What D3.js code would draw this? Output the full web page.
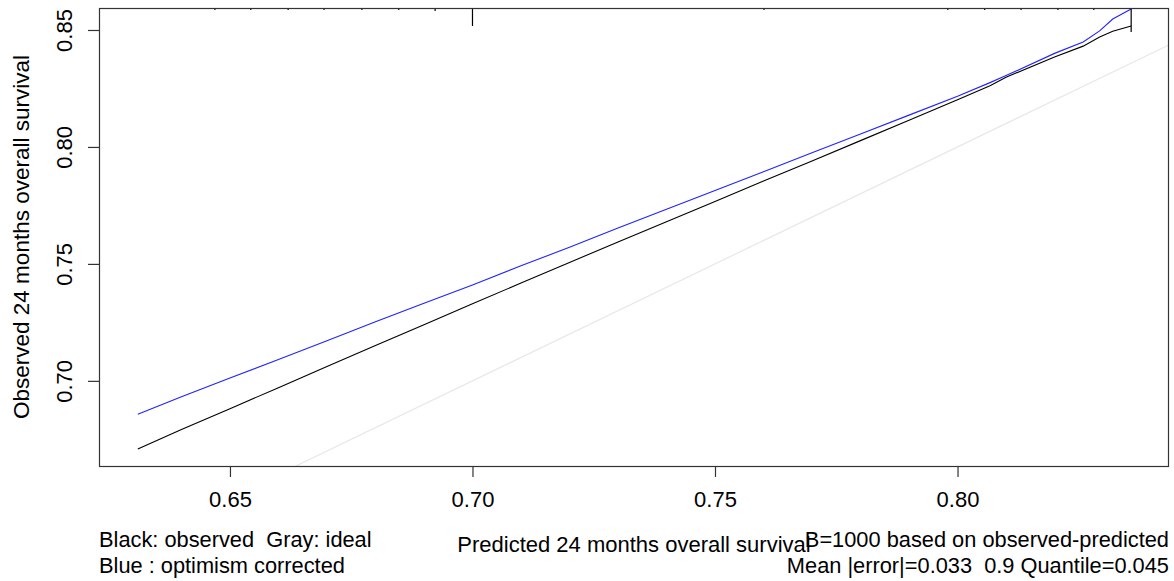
<!DOCTYPE html>
<html>
<head>
<meta charset="utf-8">
<script src="https://cdn.jsdelivr.net/npm/d3@7"></script>
<style>
  body { margin: 0; background: #fff; }
  svg { font-family: "Liberation Sans", Arial, sans-serif; }
  text { white-space: pre; }
</style>
</head>
<body>
<svg id="chart" width="1174" height="581"></svg>
<script>
// predicted probabilities (x) and the two calibration curves
var predicted = [0.631, 0.64, 0.65, 0.66, 0.67, 0.68, 0.69, 0.70, 0.71, 0.72, 0.73, 0.74,
                 0.75, 0.76, 0.77, 0.78, 0.79, 0.80, 0.8067, 0.81, 0.82, 0.8259, 0.8293, 0.832, 0.8358];
var observed  = [0.6709, 0.6792, 0.6881, 0.6971, 0.7061, 0.7151, 0.7240, 0.7330, 0.7418, 0.7506, 0.7594, 0.7680,
                 0.7767, 0.7854, 0.7940, 0.8027, 0.8114, 0.8202, 0.8262, 0.8298, 0.8385, 0.8431, 0.8470, 0.8495, 0.8517];
var corrected = [0.6857, 0.6932, 0.7012, 0.7091, 0.7171, 0.7253, 0.7332, 0.7410, 0.7492, 0.7571, 0.7653, 0.7734,
                 0.7814, 0.7894, 0.7975, 0.8055, 0.8136, 0.8217, 0.8275, 0.8305, 0.8400, 0.8449, 0.8496, 0.8547, 0.8590];

// distribution of predicted values (rug at the top)
var rugValues = [0.6469, 0.6543, 0.662, 0.6694, 0.6772, 0.6848, 0.6923, 0.70, 0.7601,
                 0.798, 0.8056, 0.8131, 0.8207, 0.8281, 0.8358];
var rugCounts = [1, 1, 1, 1, 1, 1, 1.5, 9, 1, 1, 1, 1, 1, 1, 12];

var xTicks = [0.65, 0.70, 0.75, 0.80];
var yTicks = [0.70, 0.75, 0.80, 0.85];

var leftNotes  = ["Black: observed  Gray: ideal", "Blue : optimism corrected"];
var rightNotes = ["B=1000 based on observed-predicted", "Mean |error|=0.033  0.9 Quantile=0.045"];

var width = 1174,
    height = 581,
    margin = {top: 8, right: 5, bottom: 115, left: 99};

var svg = d3.select("#chart");

var x = d3.scaleLinear()
    .domain([0.623, 0.8436])
    .range([margin.left, width - margin.right]);

var y = d3.scaleLinear()
    .domain([0.6636, 0.8594])
    .range([height - margin.bottom, margin.top]);

svg.append("clipPath")
    .attr("id", "plotclip")
  .append("rect")
    .attr("x", margin.left)
    .attr("y", margin.top)
    .attr("width", width - margin.left - margin.right)
    .attr("height", height - margin.top - margin.bottom);

var plot = svg.append("g").attr("clip-path", "url(#plotclip)");

// ideal line
plot.append("line")
    .attr("x1", x(0.6)).attr("y1", y(0.6))
    .attr("x2", x(0.9)).attr("y2", y(0.9))
    .attr("stroke", "#e8e8e8")
    .attr("stroke-width", 1.2);

var line = function(ys) {
  return d3.line()
      .x(function(d, i) { return x(predicted[i]); })
      .y(function(d) { return y(d); })(ys);
};

plot.append("path")
    .attr("d", line(observed))
    .attr("fill", "none")
    .attr("stroke", "#000")
    .attr("stroke-width", 1.1);

plot.append("path")
    .attr("d", line(corrected))
    .attr("fill", "none")
    .attr("stroke", "#2222ff")
    .attr("stroke-width", 1.1);

// rug of predicted values
var rugH = d3.scaleLinear().domain([0, d3.max(rugCounts)]).range([0, 24]);
svg.append("g").selectAll("line")
    .data(rugValues)
    .enter().append("line")
      .attr("x1", function(d) { return x(d); })
      .attr("x2", function(d) { return x(d); })
      .attr("y1", margin.top)
      .attr("y2", function(d, i) { return margin.top + rugH(rugCounts[i]); })
      .attr("stroke", "#000")
      .attr("stroke-width", 1.2);

// frame
svg.append("rect")
    .attr("x", margin.left + 0.5)
    .attr("y", margin.top + 0.5)
    .attr("width", width - margin.left - margin.right - 1)
    .attr("height", height - margin.top - margin.bottom)
    .attr("fill", "none")
    .attr("stroke", "#333")
    .attr("stroke-width", 1.2);

// axes
var xAxis = d3.axisBottom(x).tickValues(xTicks).tickSize(11).tickPadding(14)
    .tickFormat(d3.format(".2f"));
var gx = svg.append("g")
    .attr("transform", "translate(0," + (height - margin.bottom) + ")")
    .call(xAxis);
gx.select(".domain").remove();
gx.selectAll("text").attr("font-size", 22).attr("fill", "#000")
    .attr("font-family", "Liberation Sans, Arial, sans-serif");
gx.selectAll("line").attr("stroke", "#333").attr("stroke-width", 1.2);

var yAxis = d3.axisLeft(y).tickValues(yTicks).tickSize(11).tickFormat(d3.format(".2f"));
var gy = svg.append("g")
    .attr("transform", "translate(" + margin.left + ",0)")
    .call(yAxis);
gy.select(".domain").remove();
gy.selectAll("line").attr("stroke", "#333").attr("stroke-width", 1.2);
gy.selectAll("text")
    .attr("font-size", 22).attr("fill", "#000")
    .attr("font-family", "Liberation Sans, Arial, sans-serif")
    .attr("x", null).attr("dy", null)
    .attr("text-anchor", "middle")
    .attr("transform", "translate(-27,0) rotate(-90)");

// axis titles
svg.append("text")
    .attr("x", (margin.left + width - margin.right) / 2)
    .attr("y", 552)
    .attr("text-anchor", "middle")
    .attr("font-size", 22)
    .text("Predicted 24 months overall survival");

svg.append("text")
    .attr("transform", "translate(29," + ((margin.top + height - margin.bottom) / 2) + ") rotate(-90)")
    .attr("text-anchor", "middle")
    .attr("font-size", 22.5)
    .text("Observed 24 months overall survival");

// notes under the plot
svg.append("g").selectAll("text")
    .data(leftNotes)
    .enter().append("text")
      .attr("x", margin.left)
      .attr("y", function(d, i) { return 547 + i * 26; })
      .attr("font-size", 21.8)
      .text(function(d) { return d; });

svg.append("g").selectAll("text")
    .data(rightNotes)
    .enter().append("text")
      .attr("x", width - margin.right)
      .attr("y", function(d, i) { return 547 + i * 26; })
      .attr("text-anchor", "end")
      .attr("font-size", 21.8)
      .text(function(d) { return d; });
</script>
</body>
</html>
